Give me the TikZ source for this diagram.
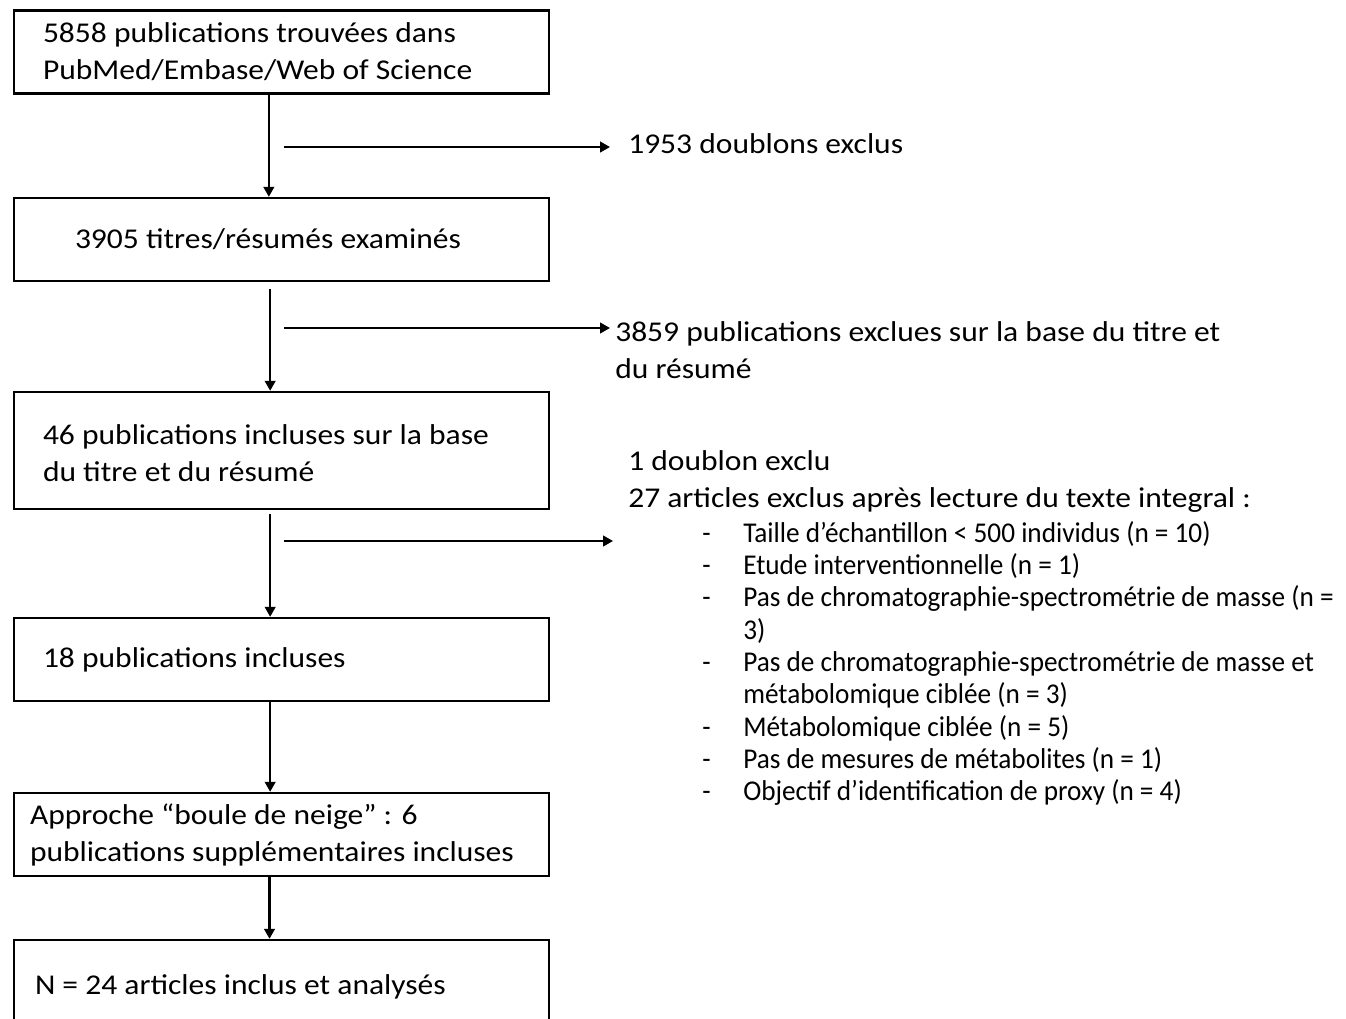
\documentclass[tikz,border=0pt]{standalone}
\usepackage{fontspec}
\setmainfont{Carlito}[FakeStretch=1.1]
\newfontfamily\listfont{Carlito}[FakeStretch=0.95]
\usetikzlibrary{positioning,arrows.meta}

\begin{document}
\begin{tikzpicture}[x=0.75pt,y=-0.75pt,
    box/.style={draw,line width=1.8pt,minimum width=401.25pt,minimum height=62.25pt,
      align=flush left,font=\fontsize{21.5}{27.75}\selectfont},
    note/.style={align=left,inner ysep=0pt,font=\fontsize{21.5}{27.75}\selectfont},
    arr/.style={line width=1.7pt,-{Triangle[length=7.5pt,width=8pt]}}]
    \useasboundingbox (0,0) rectangle (1346,1019);
    % Boxes
    \node[box,inner xsep=21.75pt,text width=357.75pt] (found) at (281.5,52)
      {5858 publications trouvées dans\\PubMed/Embase/Web of Science};
    \node[box,inner xsep=45.75pt,text width=309.75pt] (screened) at (281.5,239.5)
      {3905 titres/résumés examinés};
    \node[box,inner xsep=21.75pt,text width=357.75pt,minimum height=87.75pt] (kept) at (281.5,450.5)
      {\rule{0pt}{19pt}46 publications incluses sur la base\\du titre et du résumé};
    \node[box,inner xsep=21.75pt,text width=357.75pt] (included) at (281.5,659.5)
      {18 publications incluses};
    \node[box,inner xsep=12pt,text width=377.25pt] (snowball) at (281.5,834.5)
      {Approche “boule de neige” : 6\\publications supplémentaires incluses};
    \node[box,inner xsep=15.75pt,text width=369.75pt,minimum height=70.5pt] (final) at (281.5,987)
      {N = 24 articles inclus et analysés};
    % Excluded
    \node[note,anchor=west,inner xsep=13.5pt] (dup) at (610,144) {1953 doublons exclus};
    \node[note,anchor=west,inner xsep=3.75pt] (title) at (610,350)
      {3859 publications exclues sur la base du titre et\\du résumé};
    \node[note,anchor=north west,inner xsep=11.25pt] (fulltext) at (613,450)
      {1 doublon exclu\\[0.5pt]
       27 articles exclus après lecture du texte integral :\\[-2pt]
       {\listfont
       \hspace*{55.5pt}\makebox[30.75pt][l]{-}Taille d’échantillon < 500 individus (n = 10)}\\[-3.5pt]
       {\listfont
       \hspace*{55.5pt}\makebox[30.75pt][l]{-}Etude interventionnelle (n = 1)}\\[-3.5pt]
       {\listfont
       \hspace*{55.5pt}\makebox[30.75pt][l]{-}Pas de chromatographie-spectrométrie de masse (n =}\\[-3.5pt]
       {\listfont
       \hspace*{86.25pt}3)}\\[-3.5pt]
       {\listfont
       \hspace*{55.5pt}\makebox[30.75pt][l]{-}Pas de chromatographie-spectrométrie de masse et}\\[-3.5pt]
       {\listfont
       \hspace*{86.25pt}métabolomique ciblée (n = 3)}\\[-3.5pt]
       {\listfont
       \hspace*{55.5pt}\makebox[30.75pt][l]{-}Métabolomique ciblée (n = 5)}\\[-3.5pt]
       {\listfont
       \hspace*{55.5pt}\makebox[30.75pt][l]{-}Pas de mesures de métabolites (n = 1)}\\[-3.5pt]
       {\listfont
       \hspace*{55.5pt}\makebox[30.75pt][l]{-}Objectif d’identification de proxy (n = 4)}};
    % Side points
    \coordinate (s1) at (284,147);
    \coordinate (s2) at (284,328);
    \coordinate (s3) at (284,541);
    % Arrows
    \draw[arr] ([xshift=-9.5pt]found.south) -- ([xshift=-9.5pt]screened.north);
    \draw[arr,shorten <=5pt] ([xshift=-8.5pt]screened.south) -- ([xshift=-8.5pt]kept.north);
    \draw[arr,shorten <=3pt] ([xshift=-8.5pt]kept.south) -- ([xshift=-8.5pt]included.north);
    \draw[arr] ([xshift=-8.5pt]included.south) -- ([xshift=-8.5pt]snowball.north);
    \draw[arr] ([xshift=-9pt]snowball.south) -- ([xshift=-9pt]final.north);
    \draw[arr] (s1) -- (s1 -| dup.west);
    \draw[arr] (s2) -- (s2 -| title.west);
    \draw[arr] (s3) -- (s3 -| fulltext.west);
\end{tikzpicture}
\end{document}
